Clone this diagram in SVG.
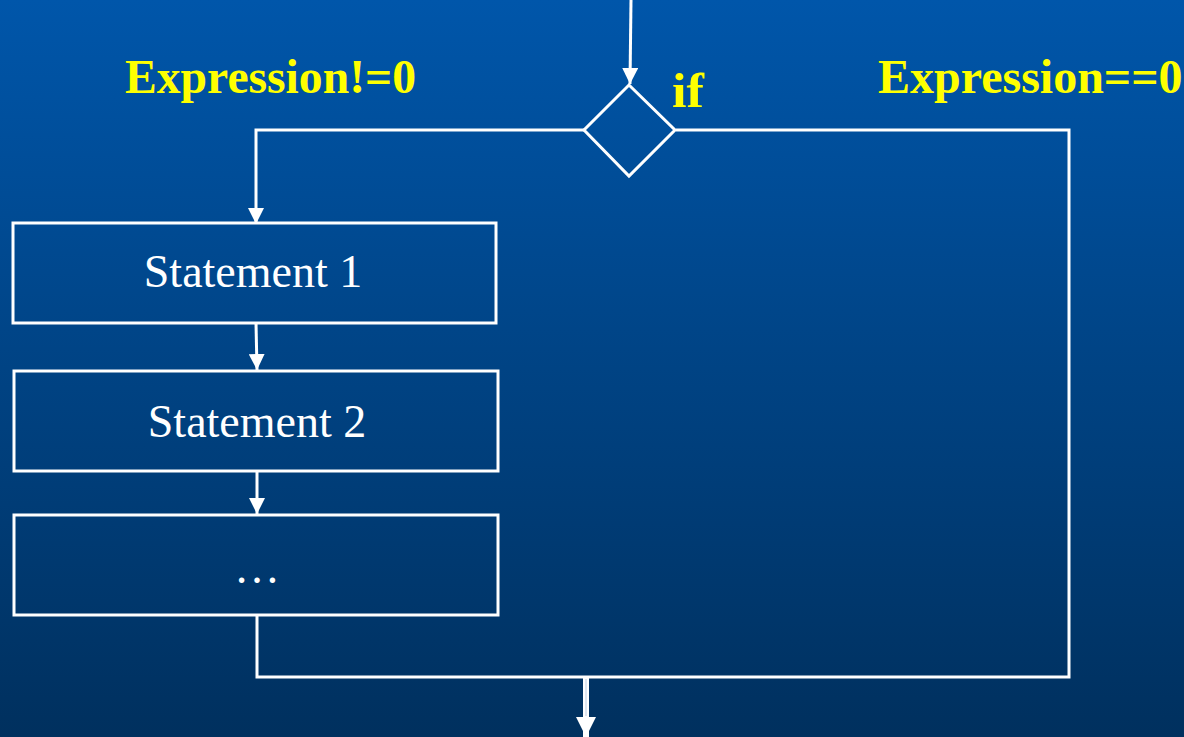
<svg xmlns="http://www.w3.org/2000/svg" width="1184" height="737" viewBox="0 0 1184 737">
  <defs>
    <linearGradient id="bg" x1="0" y1="0" x2="0" y2="1">
      <stop offset="0" stop-color="#0056AA"/>
      <stop offset="1" stop-color="#00305E"/>
    </linearGradient>
    <marker id="arr" markerWidth="16" markerHeight="16" refX="16" refY="8" orient="auto" markerUnits="userSpaceOnUse">
      <path d="M0,0 L16,8 L0,16 Z" fill="#ffffff"/>
    </marker>
    <marker id="arrBig" markerWidth="20" markerHeight="20" refX="20" refY="10" orient="auto" markerUnits="userSpaceOnUse">
      <path d="M0,0 L20,10 L0,20 Z" fill="#ffffff"/>
    </marker>
  </defs>
  <style>
    .box { fill: none; stroke: #ffffff; stroke-width: 3; }
    .line { fill: none; stroke: #ffffff; stroke-width: 3; }
    .lbl { font-family: "Liberation Serif", "Times New Roman", serif; font-size: 46px; fill: #ffffff; text-anchor: middle; }
    .cond { font-family: "Liberation Serif", "Times New Roman", serif; font-size: 48px; font-weight: bold; fill: #ffff00; }
  </style>
  <rect x="0" y="0" width="1184" height="737" fill="url(#bg)"/>

  <g id="connectors">
    <line class="line" x1="631" y1="0" x2="630" y2="84" marker-end="url(#arr)"/>
    <polyline class="line" points="584,130 256,130 256,224" marker-end="url(#arr)"/>
    <line class="line" x1="256" y1="323" x2="257" y2="370" marker-end="url(#arr)"/>
    <line class="line" x1="257" y1="471" x2="257" y2="514" marker-end="url(#arr)"/>
    <polyline class="line" points="257,615 257,677 1069,677 1069,130 676,130"/>
    <line x1="586" y1="677" x2="586" y2="737" stroke="#ffffff" stroke-width="6" marker-end="url(#arrBig)"/>
    <line x1="586" y1="679" x2="586" y2="716" stroke="#c9d6e6" stroke-width="1.2"/>
  </g>

  <g id="if-node">
    <polygon class="box" points="629,85 675,130 629,176 584,130"/>
    <text class="cond" x="672" y="107" textLength="32" lengthAdjust="spacingAndGlyphs">if</text>
  </g>

  <g id="label-true">
    <text class="cond" x="125" y="93" textLength="291" lengthAdjust="spacingAndGlyphs">Expression!=0</text>
  </g>
  <g id="label-false">
    <text class="cond" x="878" y="93">Expression==0</text>
  </g>

  <g id="statement1">
    <rect class="box" x="13" y="223" width="483" height="100"/>
    <text class="lbl" x="253" y="287">Statement 1</text>
  </g>
  <g id="statement2">
    <rect class="box" x="14" y="371" width="484" height="100"/>
    <text class="lbl" x="257" y="437">Statement 2</text>
  </g>
  <g id="statement3">
    <rect class="box" x="14" y="515" width="484" height="100"/>
    <text class="lbl" x="257" y="583">…</text>
  </g>
</svg>
